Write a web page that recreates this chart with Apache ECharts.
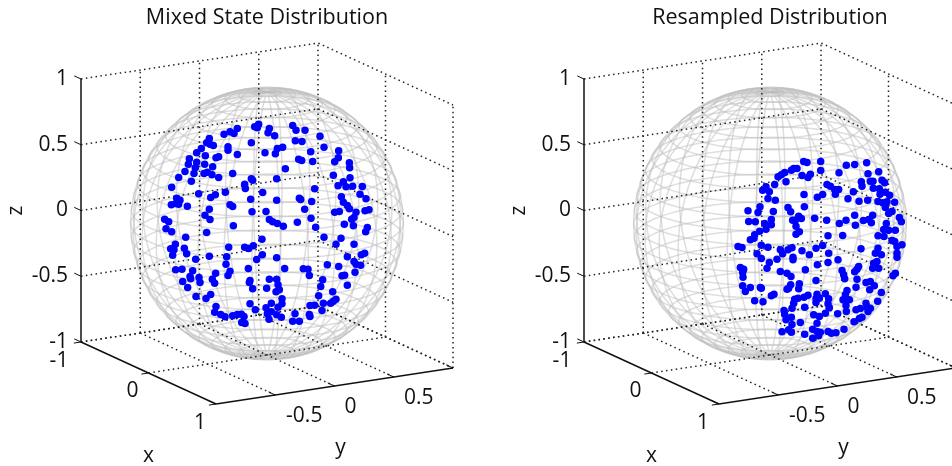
<!DOCTYPE html>
<html><head><meta charset="utf-8">
<style>html,body{margin:0;padding:0;background:#fff}#c{width:952px;height:466px}</style>
<script src="https://cdn.jsdelivr.net/npm/echarts@6/dist/echarts.min.js"></script>
</head><body><div id="c"></div>
<script>
const panelTitles = ['Mixed State Distribution', 'Resampled Distribution'];
const xTicks = [-1, 0, 1];
const yTicks = [-1, -0.5, 0, 0.5, 1];
const zTicks = [-1, -0.5, 0, 0.5, 1];
const xTickLabels = ['-1', '0', '1'];
const yTickLabels = ['-0.5', '0', '0.5'];
const yTickLabelValues = [-0.5, 0, 0.5];

// Points: [horizontal, vertical] in the view plane, sphere radius = 409 units
const mixedPoints = [
[-89,285],[-111,275],[-129,268],[-99,270],[-173,255],[-181,242],[-161,234],[-171,238],[-117,230],[-117,220],[-89,207],[-197,225],[-211,212],[-185,203],[-145,200],[-153,197],[-233,194],[-236,178],[-211,184],[-187,178],[-163,170],[-215,167],[-246,156],[-219,150],[-189,150],[-179,154],[-165,146],[-145,138],[-103,150],[-265,138],[-227,127],[-286,109],[-205,89],[-169,78],[-155,86],[-125,94],[-271,76],[-261,70],[-273,60],[-287,56],[-239,52],[-265,58],[-111,56],[-103,51],[-173,43],[-186,25],[-171,12],[-307,13],[-295,5],[-101,-7],[-303,-16],[-181,-27],[-286,-25],
[-25,298],[-37,290],[-29,287],[7,285],[3,272],[23,263],[77,294],[87,280],[114,280],[159,262],[-47,242],[85,248],[105,246],[171,229],[47,229],[31,225],[-6,212],[25,209],[131,215],[215,218],[214,197],[203,185],[95,193],[104,189],[137,186],[247,182],[248,167],[55,164],[199,145],[249,137],[-47,134],[-43,130],[-67,118],[-65,105],[29,134],[213,113],[229,125],[237,110],[257,112],[286,111],[143,104],[-13,93],[279,88],[297,74],[223,80],[-49,73],[97,76],[101,72],[29,70],[134,66],[229,64],[241,54],[247,44],[113,43],[-45,35],[-3,36],[203,34],[217,36],[267,34],[294,38],[306,41],[261,18],[254,13],[132,16],[7,12],[17,5],[31,0],[49,-8],[91,4],[232,-2],[259,-7],[146,-11],[301,-12],[296,-25],
[-244,-41],[-115,-71],[-248,-74],[-289,-76],[-279,-79],[-275,-62],[-283,-95],[-241,-91],[-173,-98],[-214,-107],[-121,-100],[-123,-122],[-274,-139],[-255,-137],[-223,-142],[-111,-143],[-117,-156],[-154,-149],[-231,-159],[-229,-166],[-204,-162],[-164,-167],[-157,-179],[-201,-177],[-253,-174],[-238,-192],[-213,-219],[-169,-213],[-183,-225],[-153,-249],[-157,-266],[-139,-273],[-126,-280],[-103,-277],[-89,-273],
[-15,-47],[171,-41],[222,-44],[207,-62],[261,-62],[-67,-71],[-55,-75],[-41,-67],[-14,-94],[-31,-108],[29,-103],[241,-100],[293,-89],[283,-94],[261,-114],[267,-122],[281,-125],[-56,-135],[53,-135],[109,-136],[123,-137],[127,-156],[181,-124],[215,-129],[264,-146],[225,-157],[233,-155],[7,-167],[29,-167],[-51,-171],[-53,-177],[33,-184],[167,-169],[161,-189],[241,-185],[-43,-196],[-1,-194],[37,-199],[27,-205],[197,-205],[155,-217],[45,-226],[207,-227],[199,-233],[191,-239],[169,-239],[-51,-241],[13,-239],[45,-241],[129,-246],[143,-245],[33,-251],[-35,-259],[-3,-253],[165,-261],[13,-265],[29,-274],[1,-271],[43,-281],[6,-287],[84,-271],[127,-273],[129,-279],[77,-293],[97,-293],[-69,-279],[-77,-272],[-76,-297],[-66,-300]
];
const resampledPoints = [
[101,186],[111,183],[152,186],[152,159],[229,175],[254,177],[290,182],[326,155],[294,149],[207,152],[71,165],[81,165],[64,160],[44,153],[34,146],[24,140],[96,144],[121,148],[114,138],[48,125],[14,117],[-12,110],[-22,100],[-2,95],[-6,75],[16,70],[171,117],[181,112],[194,102],[206,102],[196,88],[158,87],[142,79],[102,87],[250,95],[234,74],[267,67],[293,70],[274,125],[276,112],[301,127],[309,127],[310,106],[336,130],[344,122],[328,104],[330,88],[346,94],[359,85],[324,66],[338,62],[351,65],[374,64],[346,48],[366,36],[356,30],[103,50],[54,48],[62,35],[10,36],[-30,50],[-36,33],[-66,38],[-64,6],[-44,5],[-16,0],[4,12],[4,-4],[-12,-17],[-31,-23],[86,22],[94,15],[76,10],[68,10],[78,-8],[134,16],[170,10],[208,0],[228,10],[254,25],[256,-5],[280,9],[296,12],[304,2],[308,25],[349,0],[388,18],[394,5],[341,-18],[356,-20],[376,-20],[88,-25],
[-46,-34],[-59,-49],[-48,-44],[78,-32],[174,-37],[218,-36],[324,-37],[342,-39],[366,-51],[374,-54],[396,-64],[381,-69],[324,-74],[-26,-65],[-6,-71],[-96,-69],[-84,-72],[158,-66],[138,-74],[96,-82],[66,-73],[54,-79],[31,-79],[38,-91],[273,-76],[-39,-91],[-26,-105],[21,-107],[-2,-117],[-9,-134],[69,-101],[69,-109],[118,-94],[176,-89],[174,-117],[142,-124],[204,-109],[316,-89],[334,-94],[381,-89],[381,-101],[321,-114],[311,-119],[314,-129],[308,-134],[326,-134],[-89,-132],[-79,-137],[-82,-147],[-81,-161],[31,-144],[106,-139],[51,-149],[63,-159],[216,-141],[221,-154],[224,-166],[266,-129],[261,-137],[254,-145],[261,-167],[376,-149],[369,-157],[138,-171],[-82,-187],[-59,-192],[-74,-204],[-29,-192],[-26,-194],[62,-184],[56,-194],[51,-197],[88,-181],[86,-196],[258,-191],[288,-177],[301,-174],[313,-187],[299,-199],[231,-201],[226,-214],[219,-229],[238,-229],[334,-207],[12,-212],[4,-217],[-46,-232],[-21,-235],[114,-215],[102,-221],[84,-224],[74,-227],[71,-239],[141,-212],[138,-226],[148,-224],[166,-211],[176,-226],[138,-237],[174,-241],[178,-253],[66,-254],[104,-251],[42,-261],[44,-272],[48,-289],[64,-281],[66,-303],[91,-297],[56,-319],[64,-326],[36,-325],[104,-332],[131,-274],[148,-279],[166,-269],[141,-299],[128,-317],[141,-324],[151,-326],[146,-337],[174,-324],[184,-329],[198,-328],[222,-317],[128,-344],[203,-271],[228,-246],[229,-264],[258,-259],[271,-255],[288,-239],[291,-251],[301,-254],[294,-264],[323,-233],[276,-281],[268,-285],[252,-295]
];

const FONT = '"Open Sans"';
const INK = '#111';
const W = 952, H = 466, UNIT = 3;
const panelCenters = [267, 770];
const centerY = 223.5;
const pointSets = [mixedPoints, resampledPoints];
// view projection of the unit box
const project = (x, y, z) => [x * 202.5 + y * 355.5, -93 * x + 54 * y + 394.5 * z];
const SPHERE_N = 30;

const chart = echarts.init(document.getElementById('c'), null, {renderer: 'canvas'});
const grid = [], xAxis = [], yAxis = [], series = [], title = [];

function line(idx, pts, style) {
  series.push({type: 'line', xAxisIndex: idx, yAxisIndex: idx, data: pts, showSymbol: false, silent: true,
    animation: false, smooth: false, lineStyle: style, z: style.zz || 2});
}
function texts(idx, items, size) {
  series.push({type: 'scatter', xAxisIndex: idx, yAxisIndex: idx, symbolSize: 0, silent: true, animation: false, z: 6,
    itemStyle: {opacity: 1},
    data: items.map(t => ({value: t.at, label: {show: true, position: 'inside', formatter: t.text, offset: t.offset,
      color: INK, fontFamily: FONT, fontSize: size, align: 'center', verticalAlign: 'middle'}}))});
}

panelCenters.forEach((cx, p) => {
  const idx = p;
  grid.push({left: 0, top: 0, width: W, height: H, show: false});
  xAxis.push({type: 'value', gridIndex: idx, min: -cx * UNIT, max: (W - cx) * UNIT, show: false});
  yAxis.push({type: 'value', gridIndex: idx, min: (centerY - H) * UNIT, max: centerY * UNIT, show: false});
  title.push({text: panelTitles[p], left: cx - 5, top: 2, textAlign: 'center',
    textStyle: {fontFamily: FONT, fontWeight: 'normal', fontSize: 21.5, color: INK}});

  // wire sphere
  const wire = {color: 'rgba(190,190,190,0.5)', width: 1.5, zz: 1};
  const n = SPHERE_N;
  for (let i = 1; i < n; i++) {
    const lat = -Math.PI / 2 + Math.PI * i / n, ring = [];
    for (let j = 0; j <= 72; j++) {
      const a = 2 * Math.PI * j / 72;
      ring.push(project(Math.cos(lat) * Math.cos(a), Math.cos(lat) * Math.sin(a), Math.sin(lat)));
    }
    line(idx, ring, wire);
  }
  for (let j = 0; j < n; j++) {
    const a = 2 * Math.PI * j / n, m = [];
    for (let i = 0; i <= 48; i++) {
      const lat = -Math.PI / 2 + Math.PI * i / 48;
      m.push(project(Math.cos(lat) * Math.cos(a), Math.cos(lat) * Math.sin(a), Math.sin(lat)));
    }
    line(idx, m, wire);
  }

  // dotted box grid
  const dots = {color: '#222', width: 1.5, type: [1.5, 3.4], zz: 3};
  zTicks.forEach(z => {
    line(idx, [project(-1, -1, z), project(-1, 1, z), project(1, 1, z)], dots);
  });
  yTicks.forEach(y => {
    if (y > -1) line(idx, [project(-1, y, -1), project(-1, y, 1)], dots);
    if (y > -1) line(idx, [project(-1, y, -1), project(1, y, -1)], dots);
  });
  xTicks.forEach(x => {
    if (x > -1) line(idx, [project(x, 1, -1), project(x, 1, 1)], dots);
    if (x < 1) line(idx, [project(x, -1, -1), project(x, 1, -1)], dots);
  });

  // solid axes and their ticks
  const solid = {color: INK, width: 1.5, zz: 5};
  line(idx, [project(-1, -1, -1), project(1, -1, -1)], solid);
  line(idx, [project(1, -1, -1), project(1, 1, -1)], solid);
  const thin = {color: INK, width: 1, zz: 5};
  zTicks.forEach(z => line(idx, [project(-1, -1, z), project(-1.1, -1, z)], thin));
  xTicks.forEach(x => line(idx, [project(x, -1, -1), project(x, -1.06, -1)], thin));
  yTicks.forEach(y => line(idx, [project(1, y, -1), project(0.9, y, -1)], thin));

  // points
  series.push({type: 'scatter', xAxisIndex: idx, yAxisIndex: idx, data: pointSets[p], symbol: 'circle', symbolSize: 7.5,
    itemStyle: {color: '#0000ff', opacity: 1}, silent: true, animation: false, z: 4});

  // x and y tick labels, axis names
  const xOff = [[-22, 19], [-16, 18], [-16, 19]];
  const yOff = [[29, 21], [16, 21], [25, 21]];
  texts(idx, xTicks.map((x, i) => ({at: project(x, -1, -1), text: xTickLabels[i], offset: xOff[i]}))
    .concat(yTickLabelValues.map((y, i) => ({at: project(1, y, -1), text: yTickLabels[i], offset: yOff[i]}))), 21);
  texts(idx, [
    {at: project(0, -1, -1), text: 'x', offset: [0, 83]},
    {at: project(1, 0, -1), text: 'y', offset: [6, 62]}
  ], 21);
});

// real z axes
panelCenters.forEach((cx, p) => {
  const idx = 2 + p;
  const left = cx - 186;
  grid.push({left, top: 79, width: 1, height: 263, show: false});
  xAxis.push({type: 'value', gridIndex: idx, show: false, min: 0, max: 1});
  yAxis.push({type: 'value', gridIndex: idx, min: -1, max: 1, interval: 0.5, position: 'left',
    axisLine: {show: true, onZero: false, lineStyle: {color: INK, width: 1.5}},
    axisTick: {show: false}, splitLine: {show: false},
    axisLabel: {margin: 13, color: INK, fontFamily: FONT, fontSize: 21, formatter: v => String(v)},
    name: 'z', nameLocation: 'middle', nameGap: 54, nameRotate: 90,
    nameTextStyle: {color: INK, fontFamily: FONT, fontSize: 21}});
  series.push({type: 'line', xAxisIndex: idx, yAxisIndex: idx, data: [], silent: true});
});

chart.setOption({animation: false, backgroundColor: '#fff', title, grid, xAxis, yAxis, series});
</script></body></html>
